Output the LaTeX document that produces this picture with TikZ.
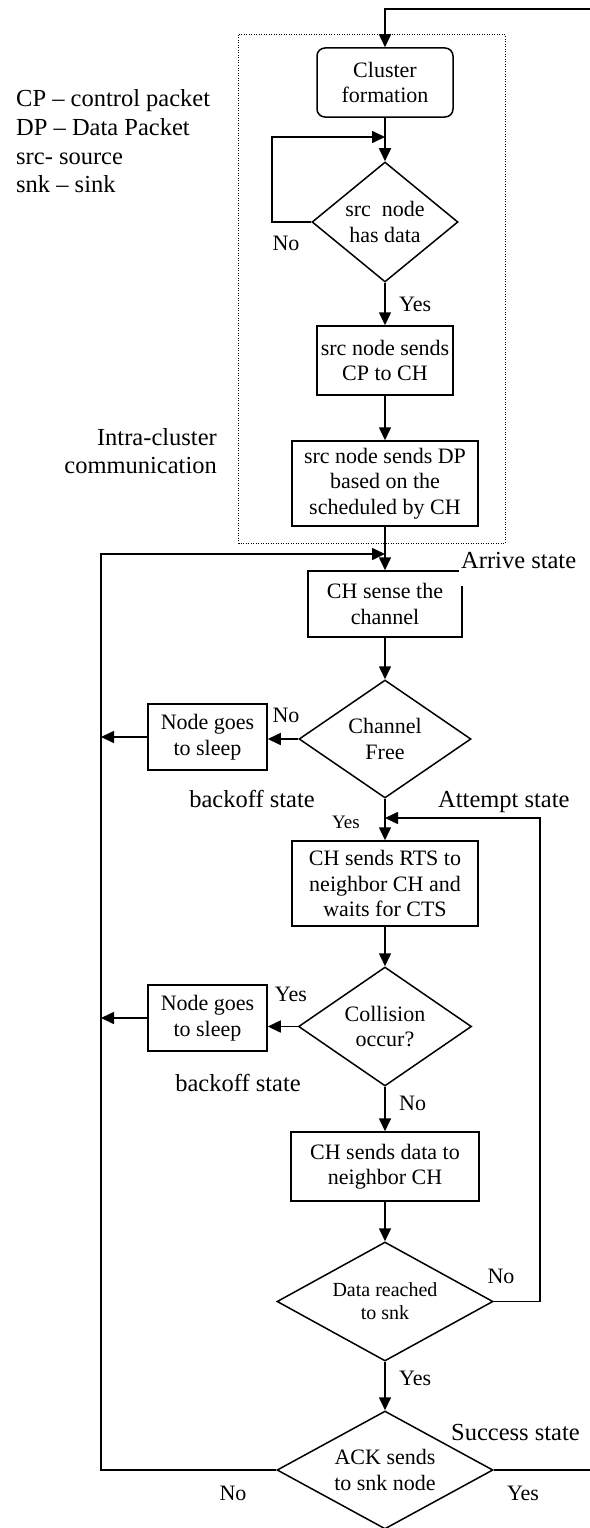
\documentclass[tikz,border=0pt]{standalone}
\usepackage{fontspec}
\setmainfont{Liberation Serif}
\usetikzlibrary{shapes.geometric,arrows.meta}
\newcommand\bxfont{\fontsize{22}{25.5}\selectfont}
\newcommand\lbfont{\fontsize{24.5}{29}\selectfont}
\newcommand\smfont{\fontsize{20}{23}\selectfont}
\newcommand\tnfont{\fontsize{19}{22}\selectfont}
\tikzset{
  box/.style={draw, line width=1.5pt, inner sep=0pt, align=center, font=\bxfont},
  rbox/.style={box, rounded corners=8pt},
  dia/.style={draw, diamond, line width=1.5pt, inner sep=0pt},
  dtxt/.style={align=center, font=\bxfont, inner sep=0pt},
  arr/.style={line width=1.6pt, -{Triangle[length=13pt,width=12pt]}},
  lbl/.style={font=\lbfont, inner sep=1pt},
  yn/.style={font=\bxfont, inner sep=1pt},
  grp/.style={line width=1pt, dash pattern=on 1pt off 1.5pt}
}
\begin{document}
\begin{tikzpicture}[x=1pt,y=-1pt]
\useasboundingbox (0,0) rectangle (589,1528);
% group box
\draw[grp] (238.5,35) rectangle (505,543);
% nodes
\node[rbox, minimum width=136pt, minimum height=69pt] (cf) at (385,82.5) {Cluster\\formation};
\node[dia, minimum width=146pt, minimum height=120pt, label={[dtxt]center:src\ \ node\\has data}] (d1) at (385,222) {};
\node[box, minimum width=136pt, minimum height=69pt] (b1) at (385,360.5) {src node sends\\CP to CH};
\node[box, minimum width=186pt, minimum height=85pt] (b2) at (385,483.5) {src node sends DP\\based on the\\scheduled by CH};
\node[box, minimum width=154pt, minimum height=66pt] (b3) at (385,604) {CH sense the\\channel};
\node[dia, minimum width=172pt, minimum height=118pt, label={[dtxt]center:Channel\\Free}] (d2) at (385,739) {};
\node[box, minimum width=119pt, minimum height=66pt] (s1) at (207.5,737) {Node goes\\to sleep};
\node[box, minimum width=186pt, minimum height=85pt] (b4) at (385,883.5) {CH sends RTS to\\neighbor CH and\\waits for CTS};
\node[dia, minimum width=173pt, minimum height=119pt, label={[dtxt]center:Collision\\occur?}] (d3) at (385,1026.5) {};
\node[box, minimum width=119pt, minimum height=66pt] (s2) at (207.5,1018) {Node goes\\to sleep};
\node[box, minimum width=188pt, minimum height=69pt] (b5) at (385,1166.5) {CH sends data to\\neighbor CH};
\node[dia, minimum width=216pt, minimum height=119pt, label={[dtxt,font=\smfont]center:Data reached\\to snk}] (d4) at (385,1301.5) {};
\node[dia, minimum width=216pt, minimum height=118pt, label={[dtxt]center:ACK sends\\to snk node}] (d5) at (385,1470) {};
% junction coordinates
\coordinate (tr) at (590.5,9);
\coordinate (j1) at (385,137);
\coordinate (j2) at (385,554);
\coordinate (j3) at (385,818);
\coordinate (lx) at (101,554);
% connectors
\draw[arr] (cf) -- (d1);
\draw[arr] (d1.west) -- ++(-39,0) |- (j1);
\draw[arr] (d1) -- (b1);
\draw[arr] (b1) -- (b2);
\draw[arr] (b2) -- (b3);
\draw[arr] (b3) -- (d2);
\draw[arr] (d2.west) -- (d2.west -| s1.east);
\draw[arr] (s1.west) -- (s1.west -| lx);
\draw[arr] (d2) -- (b4);
\draw[arr] (b4) -- (d3);
\draw[arr] (d3.west) -- (d3.west -| s2.east);
\draw[arr] (s2.west) -- (s2.west -| lx);
\draw[arr] (d3) -- (b5);
\draw[arr] (b5) -- (d4);
\draw[arr] (d4) -- (d5);
\draw[arr] (d4.east) -- ++(46,0) |- (j3);
\draw[arr] (d5.west) -| (lx) -- (j2);
\draw[arr] (d5.east) -| (tr) -| (cf.north);
% legend
\node[lbl, anchor=base west] at (15,106) {CP – control packet};
\node[lbl, anchor=base west] at (15,135) {DP – Data Packet};
\node[lbl, anchor=base west] at (15,164) {src- source};
\node[lbl, anchor=base west] at (15,192) {snk – sink};
\node[lbl, anchor=base east] at (218,445) {Intra-cluster};
\node[lbl, anchor=base east] at (218,473) {communication};
% state labels
\node[lbl, fill=white, inner xsep=2pt, inner ysep=2pt, text depth=16pt, anchor=base west] at (459,568) {Arrive state};
\node[lbl, anchor=base west] at (437,807) {Attempt state};
\node[lbl, anchor=base] at (252,807) {backoff state};
\node[lbl, anchor=base] at (238,1091) {backoff state};
\node[lbl, fill=white, inner xsep=2pt, inner ysep=3pt, anchor=base west] at (449,1440) {Success state};
% yes / no labels
\node[yn, anchor=base] at (286,250) {No};
\node[yn, anchor=base west] at (398,311) {Yes};
\node[yn, anchor=base] at (286,722) {No};
\node[yn, font=\tnfont, anchor=base] at (346,828) {Yes};
\node[yn, anchor=base] at (291,1001) {Yes};
\node[yn, anchor=base west] at (398,1110) {No};
\node[yn, anchor=base] at (501,1283) {No};
\node[yn, anchor=base west] at (398,1385) {Yes};
\node[yn, anchor=base] at (233,1500) {No};
\node[yn, anchor=base] at (523,1500) {Yes};
\end{tikzpicture}
\end{document}
